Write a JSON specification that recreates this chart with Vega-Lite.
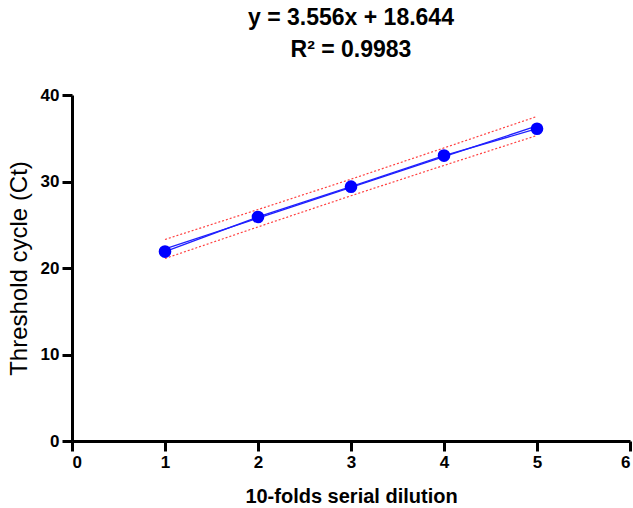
{
  "$schema": "https://vega.github.io/schema/vega-lite/v6.json",
  "autosize": "none",
  "width": 558,
  "height": 346,
  "padding": {"left": 72, "top": 95, "right": 3, "bottom": 67},
  "background": "white",
  "title": {
    "text": ["y = 3.556x + 18.644", "R² = 0.9983"],
    "font": "Liberation Sans",
    "fontSize": 23,
    "fontWeight": "bold",
    "lineHeight": 32,
    "offset": 24,
    "anchor": "middle",
    "color": "black"
  },
  "config": {
    "view": {"stroke": null},
    "axis": {
      "domainColor": "black",
      "domainWidth": 3,
      "tickColor": "black",
      "tickWidth": 3,
      "tickSize": 10,
      "grid": false,
      "labelFont": "Liberation Sans",
      "labelFontSize": 17,
      "labelFontWeight": "bold",
      "labelColor": "black",
      "titleFont": "Liberation Sans",
      "titleColor": "black"
    }
  },
  "datasets": {
    "pts": [
      {"x": 1, "y": 21.9},
      {"x": 2, "y": 25.9},
      {"x": 3, "y": 29.4},
      {"x": 4, "y": 33.0},
      {"x": 5, "y": 36.1}
    ],
    "fit": [
      {"x": 1, "y": 22.2, "lo": 21.1, "hi": 23.3},
      {"x": 2, "y": 25.756, "lo": 24.75, "hi": 26.76},
      {"x": 3, "y": 29.312, "lo": 28.35, "hi": 30.27},
      {"x": 4, "y": 32.868, "lo": 31.86, "hi": 33.88},
      {"x": 5, "y": 36.424, "lo": 35.32, "hi": 37.52}
    ]
  },
  "layer": [
    {
      "data": {"name": "fit"},
      "mark": {"type": "line", "color": "#FF4040", "strokeWidth": 1.2, "strokeDash": [2, 2]},
      "encoding": {
        "x": {"field": "x", "type": "quantitative", "scale": {"domain": [0, 6], "nice": false},
          "axis": {"title": "10-folds serial dilution", "values": [0,1,2,3,4,5,6], "format": "d", "labelPadding": 3, "titlePadding": 16, "titleFontSize": 20, "titleFontWeight": "bold"}},
        "y": {"field": "hi", "type": "quantitative", "scale": {"domain": [0, 40], "nice": false},
          "axis": {"title": "Threshold cycle (Ct)", "values": [0,10,20,30,40], "labelPadding": 3, "titlePadding": 9, "titleFontSize": 24, "titleFontWeight": "normal"}}
      }
    },
    {
      "data": {"name": "fit"},
      "mark": {"type": "line", "color": "#FF4040", "strokeWidth": 1.2, "strokeDash": [2, 2]},
      "encoding": {
        "x": {"field": "x", "type": "quantitative"},
        "y": {"field": "lo", "type": "quantitative"}
      }
    },
    {
      "data": {"name": "fit"},
      "mark": {"type": "line", "color": "#2020FF", "strokeWidth": 1.3},
      "encoding": {
        "x": {"field": "x", "type": "quantitative"},
        "y": {"field": "y", "type": "quantitative"}
      }
    },
    {
      "data": {"name": "pts"},
      "mark": {"type": "line", "color": "#2020FF", "strokeWidth": 1.3},
      "encoding": {
        "x": {"field": "x", "type": "quantitative"},
        "y": {"field": "y", "type": "quantitative"}
      }
    },
    {
      "data": {"name": "pts"},
      "mark": {"type": "circle", "color": "#0000FF", "opacity": 1, "size": 160},
      "encoding": {
        "x": {"field": "x", "type": "quantitative"},
        "y": {"field": "y", "type": "quantitative"}
      }
    }
  ]
}
